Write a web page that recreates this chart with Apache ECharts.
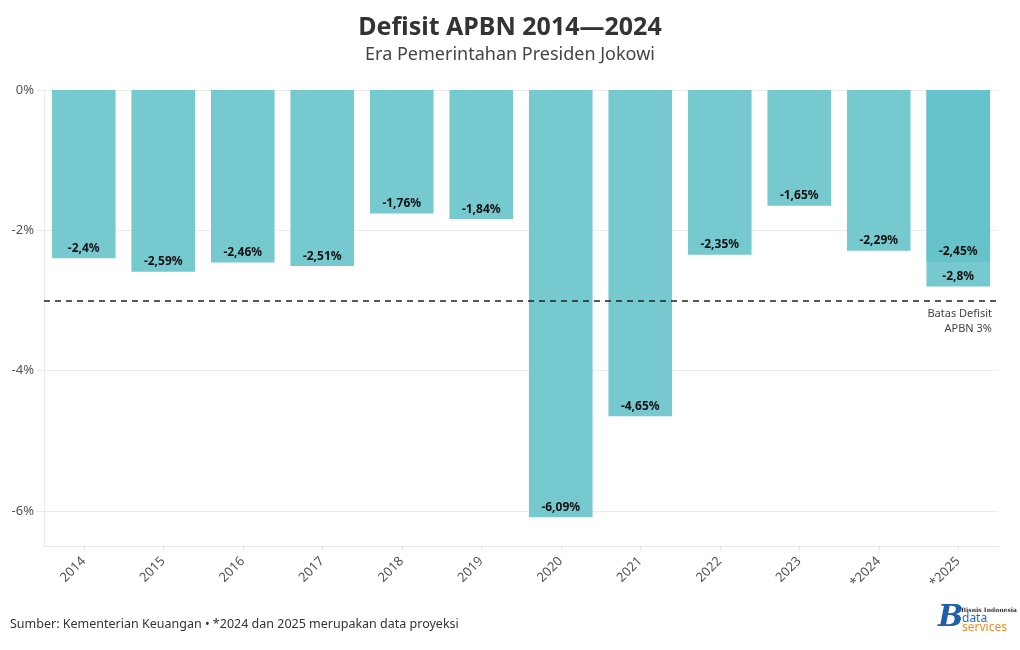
<!DOCTYPE html>
<html><head><meta charset="utf-8">
<script src="https://cdn.jsdelivr.net/npm/echarts@6/dist/echarts.min.js"></script>
<style>html,body{margin:0;padding:0;background:#fff}#c{width:1020px;height:650px}</style>
</head><body><div id="c"></div>
<script>
var years = ['2014','2015','2016','2017','2018','2019','2020','2021','2022','2023','*2024','*2025'];
var deficit = [-2.4,-2.59,-2.46,-2.51,-1.76,-1.84,-6.09,-4.65,-2.35,-1.65,-2.29,-2.8];
var outlook = [null,null,null,null,null,null,null,null,null,null,null,-2.45];
var yTicks = [0,-2,-4,-6];
var limit = -3;

var FONT = '"Noto Sans", "Open Sans", sans-serif';
function fmt(v){ return String(v).replace('.', ',') + '%'; }
var barColor = 'rgba(100,194,202,0.88)';
var labelCfg = {show:true, position:'insideBottom', distance:4, color:'#111', fontWeight:'bold', fontSize:12, fontFamily:FONT,
  formatter:function(p){return fmt(p.value);}};

var chart = echarts.init(document.getElementById('c'));
chart.setOption({
  backgroundColor:'#fff',
  animation:false,
  textStyle:{fontFamily:FONT},
  title:{text:'Defisit APBN 2014\u20142024', subtext:'Era Pemerintahan Presiden Jokowi', left:'center', top:10, itemGap:6,
    textStyle:{fontSize:25, fontWeight:'bold', color:'#333', fontFamily:FONT},
    subtextStyle:{fontSize:18, color:'#444', fontFamily:FONT}},
  grid:{left:44, right:22, top:90, bottom:104, containLabel:false},
  xAxis:{type:'category', data:years,
    axisLine:{show:true, onZero:false, lineStyle:{color:'#e6e6e6'}},
    axisTick:{show:true, alignWithLabel:true, length:5, lineStyle:{color:'#e6e6e6'}},
    axisLabel:{rotate:45, color:'#555', fontSize:13, margin:13, fontFamily:FONT}},
  yAxis:{type:'value', min:-6.5, max:0,
    axisLine:{show:true, lineStyle:{color:'#ececec'}},
    axisTick:{show:true, length:8, customValues:yTicks, lineStyle:{color:'#ececec'}},
    axisLabel:{customValues:yTicks, color:'#555', fontSize:13, margin:10, fontFamily:FONT, formatter:function(v){return v+'%';}},
    splitLine:{show:true, lineStyle:{color:'#ececec'}}},
  series:[
    {name:'Defisit', type:'bar', data:deficit, barWidth:'80%', barGap:'-100%',
     itemStyle:{color:barColor}, label:labelCfg,
     markLine:{silent:true, symbol:'none', data:[{yAxis:limit}],
       lineStyle:{color:'#222', type:[6,5], width:1.5},
       label:{show:true, position:'insideEndBottom', distance:[6,6], formatter:'Batas Defisit\nAPBN 3%', color:'#444', fontSize:11, lineHeight:15, align:'right', fontFamily:FONT}}},
    {name:'Outlook', type:'bar', data:outlook, barWidth:'80%', barGap:'-100%',
     itemStyle:{color:barColor}, label:labelCfg}
  ],
  graphic:[
    {type:'text', left:10, top:618, style:{text:'Sumber: Kementerian Keuangan \u2022 *2024 dan 2025 merupakan data proyeksi', fill:'#333', fontSize:12.5, fontFamily:FONT}},
    {type:'text', left:938, top:603, style:{text:'B', fill:'#1f5fa8', fontSize:30, fontWeight:'bold', fontStyle:'italic', fontFamily:'"DejaVu Serif", serif'}},
    {type:'text', left:961, top:607, style:{text:'Bisnis Indonesia', fill:'#333', fontSize:6, fontWeight:'bold', fontFamily:'"DejaVu Serif", serif'}},
    {type:'text', left:962, top:613, style:{text:'data', fill:'#1f6fc0', fontSize:12, fontFamily:FONT}},
    {type:'text', left:962, top:622, style:{text:'services', fill:'#f08a24', fontSize:12, fontFamily:FONT}}
  ]
});
</script></body></html>
